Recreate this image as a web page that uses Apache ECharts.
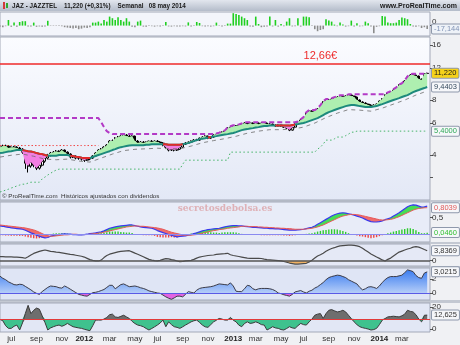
<!DOCTYPE html>
<html><head><meta charset="utf-8">
<script src="https://cdn.jsdelivr.net/npm/echarts@6.0.0/dist/echarts.min.js"></script>
<style>html,body{margin:0;padding:0;background:#f0f1f4}#c{width:460px;height:345px}</style>
</head><body><div id="c"></div>
<script>
const FONT = 'Liberation Sans';
// weekly categories (Mondays) from 2011-06-06, one spare week at the end
const weeks = [];
for (let i = 0; i < 154; i++) weeks.push(new Date(Date.UTC(2011, 5, 6 + 7 * i)).toISOString().slice(0, 10));
const mesES = ['ene','feb','mar','abr','may','jun','jul','ago','sep','oct','nov','dic'];

// ---- price (weekly OHLC) ----
const open = [4.36,4.41,4.47,4.47,4.36,4.41,4.41,4.36,4.30,4.14,
 3.60,3.47,3.65,3.51,3.38,3.51,3.69,3.84,3.99,4.09,
 4.14,4.19,4.14,4.25,4.14,4.04,3.89,3.94,3.84,3.84,
 3.79,3.74,3.79,3.84,3.94,4.09,4.25,4.30,4.41,4.52,
 4.76,4.76,4.94,5.01,5.07,5.14,5.07,5.01,5.07,4.76,
 4.64,4.70,4.64,4.70,4.76,4.70,4.76,4.70,4.64,4.52,
 4.41,4.25,4.30,4.25,4.30,4.41,4.58,4.64,4.70,4.76,
 4.82,4.82,4.94,5.01,5.07,4.94,5.01,5.14,5.20,5.27,
 5.33,5.40,5.61,5.68,5.76,5.76,5.83,5.90,5.98,5.90,
 5.98,5.90,5.98,5.90,5.98,5.98,5.90,5.90,5.83,5.76,
 5.83,5.76,5.68,5.61,5.47,5.68,5.90,6.05,6.21,6.37,
 6.79,6.96,6.87,6.96,7.14,7.41,7.80,8.00,8.00,8.10,
 8.20,8.31,8.42,8.31,8.42,8.52,8.42,8.31,8.00,7.80,
 7.70,7.60,7.51,7.41,7.51,7.60,7.90,8.10,8.52,8.74,
 8.85,9.08,9.31,9.67,9.79,10.17,10.70,10.98,10.98,10.84,
 10.43,10.30,11.19];
const close = [4.41,4.47,4.47,4.36,4.41,4.41,4.36,4.30,4.14,3.60,
 3.47,3.65,3.51,3.38,3.51,3.69,3.84,3.99,4.09,4.14,
 4.19,4.14,4.25,4.14,4.04,3.89,3.94,3.84,3.84,3.79,
 3.74,3.79,3.84,3.94,4.09,4.25,4.30,4.41,4.52,4.76,
 4.76,4.94,5.01,5.07,5.14,5.07,5.01,5.07,4.76,4.64,
 4.70,4.64,4.70,4.76,4.70,4.76,4.70,4.64,4.52,4.41,
 4.25,4.30,4.25,4.30,4.41,4.58,4.64,4.70,4.76,4.82,
 4.82,4.94,5.01,5.07,4.94,5.01,5.14,5.20,5.27,5.33,
 5.40,5.61,5.68,5.76,5.76,5.83,5.90,5.98,5.90,5.98,
 5.90,5.98,5.90,5.98,5.98,5.90,5.90,5.83,5.76,5.83,
 5.76,5.68,5.61,5.47,5.68,5.90,6.05,6.21,6.37,6.79,
 6.96,6.87,6.96,7.14,7.41,7.80,8.00,8.00,8.10,8.20,
 8.31,8.42,8.31,8.42,8.52,8.42,8.31,8.00,7.80,7.70,
 7.60,7.51,7.41,7.51,7.60,7.90,8.10,8.52,8.74,8.85,
 9.08,9.31,9.67,9.79,10.17,10.70,10.98,10.98,10.84,10.43,
 10.30,11.19,11.22];
const high = [4.50,4.55,4.55,4.52,4.46,4.48,4.46,4.42,4.35,4.18,
 3.70,3.72,3.75,3.58,3.56,3.74,3.90,4.05,4.15,4.20,
 4.25,4.24,4.30,4.28,4.18,4.08,3.99,3.98,3.90,3.90,
 3.84,3.82,3.88,3.98,4.14,4.30,4.36,4.46,4.58,4.82,
 4.86,5.00,5.08,5.12,5.18,5.20,5.14,5.12,5.10,4.82,
 4.76,4.76,4.74,4.78,4.82,4.80,4.82,4.76,4.70,4.58,
 4.46,4.36,4.36,4.34,4.46,4.64,4.70,4.74,4.80,4.88,
 4.90,4.98,5.06,5.12,5.10,5.06,5.18,5.24,5.30,5.38,
 5.45,5.66,5.74,5.82,5.82,5.88,5.96,6.04,6.02,6.03,
 6.02,6.03,6.02,6.03,6.04,6.02,5.96,5.94,5.88,5.88,
 5.86,5.80,5.72,5.64,5.72,5.95,6.10,6.28,6.45,6.85,
 7.05,7.02,7.02,7.22,7.50,7.88,8.10,8.08,8.18,8.30,
 8.40,8.50,8.50,8.48,8.60,8.60,8.46,8.36,8.06,7.88,
 7.78,7.66,7.58,7.58,7.66,7.96,8.18,8.58,8.82,8.95,
 9.18,9.40,9.75,9.90,10.28,10.80,11.10,11.15,11.10,10.90,
 10.50,11.25,11.30];
const low = [4.30,4.36,4.40,4.30,4.30,4.35,4.30,4.24,4.05,3.35,
 3.20,3.40,3.42,3.30,3.32,3.45,3.62,3.78,3.92,4.02,
 4.08,4.08,4.08,4.08,3.98,3.82,3.84,3.78,3.76,3.72,
 3.66,3.70,3.74,3.80,3.90,4.04,4.20,4.26,4.36,4.48,
 4.66,4.70,4.88,4.94,5.00,5.00,4.95,4.96,4.70,4.58,
 4.58,4.58,4.60,4.64,4.64,4.66,4.64,4.58,4.46,4.34,
 4.18,4.20,4.18,4.20,4.26,4.38,4.54,4.60,4.66,4.72,
 4.76,4.78,4.88,4.96,4.88,4.90,4.96,5.10,5.16,5.22,
 5.28,5.36,5.56,5.64,5.70,5.72,5.78,5.85,5.84,5.86,
 5.85,5.86,5.85,5.86,5.92,5.85,5.84,5.78,5.70,5.72,
 5.70,5.62,5.55,5.40,5.44,5.64,5.85,6.00,6.15,6.32,
 6.72,6.80,6.82,6.90,7.08,7.36,7.74,7.92,7.94,8.04,
 8.14,8.24,8.24,8.26,8.36,8.36,8.24,7.94,7.74,7.62,
 7.52,7.44,7.34,7.36,7.44,7.56,7.84,8.04,8.46,8.66,
 8.78,9.00,9.24,9.60,9.72,10.10,10.60,10.85,10.75,10.35,
 10.20,10.25,11.10];
// moving average (teal)
const ma = [4.09,4.11,4.14,4.17,4.19,4.22,4.25,4.25,4.25,4.22,
 4.19,4.17,4.14,4.09,4.06,4.04,3.99,3.96,3.96,3.96,
 3.96,3.99,3.99,3.99,3.99,3.96,3.94,3.91,3.89,3.86,
 3.84,3.84,3.84,3.89,3.94,3.99,4.04,4.09,4.14,4.19,
 4.25,4.30,4.36,4.41,4.44,4.47,4.50,4.52,4.52,4.52,
 4.52,4.52,4.55,4.55,4.58,4.58,4.58,4.58,4.58,4.58,
 4.55,4.55,4.55,4.55,4.55,4.58,4.61,4.64,4.70,4.76,
 4.82,4.88,4.91,4.94,4.98,5.01,5.04,5.07,5.11,5.14,
 5.17,5.20,5.24,5.27,5.33,5.40,5.47,5.51,5.54,5.58,
 5.61,5.65,5.68,5.72,5.76,5.76,5.79,5.79,5.79,5.79,
 5.79,5.79,5.79,5.79,5.83,5.86,5.90,5.94,5.98,6.05,
 6.13,6.21,6.29,6.37,6.49,6.62,6.75,6.87,6.96,7.05,
 7.14,7.23,7.32,7.41,7.46,7.51,7.51,7.46,7.41,7.37,
 7.32,7.32,7.32,7.37,7.41,7.51,7.60,7.70,7.80,7.90,
 8.00,8.10,8.20,8.31,8.42,8.52,8.68,8.85,8.97,9.08,
 9.20,9.31,9.4403];
// lower dashed band, one reading every 4 weeks
const bandLow = [3.89,3.98,4.04,3.93,3.79,3.76,3.79,3.70,3.65,3.84,4.04,4.22,4.29,4.32,4.35,4.32,4.32,4.47,4.66,4.79,
 4.91,5.06,5.26,5.40,5.50,5.50,5.54,5.68,5.98,6.41,6.78,7.09,7.04,6.95,7.22,7.60,8.00,8.52,8.97];
// purple dashed (highest high)
const topLine = [6.37,6.37,6.37,6.37,6.37,6.37,6.37,6.37,6.37,6.37,
 6.37,6.37,6.37,6.37,6.37,6.37,6.37,6.37,6.37,6.37,
 6.37,6.37,6.37,6.37,6.37,6.37,6.37,6.37,6.37,6.37,
 6.37,6.37,6.37,6.37,6.37,6.37,6.05,5.68,5.40,5.27,
 5.20,5.20,5.20,5.20,5.20,5.20,5.20,5.20,5.20,5.20,
 5.20,5.20,5.20,5.20,5.20,5.20,5.20,5.20,5.20,5.20,
 5.20,5.20,5.20,5.20,5.20,5.20,5.20,5.20,5.20,5.20,
 5.20,5.20,5.20,5.20,5.20,5.20,5.20,5.24,5.30,5.38,
 5.45,5.66,5.74,5.82,5.82,5.88,5.96,6.04,6.04,6.04,
 6.04,6.04,6.04,6.04,6.04,6.04,6.04,6.04,6.04,6.04,
 6.04,6.04,6.04,6.04,6.04,6.04,6.10,6.28,6.45,6.85,
 7.05,7.05,7.05,7.22,7.50,7.88,8.10,8.10,8.18,8.30,
 8.40,8.50,8.50,8.50,8.60,8.60,8.60,8.60,8.60,8.60,
 8.60,8.60,8.60,8.60,8.60,8.60,8.60,8.60,8.82,8.95,
 9.18,9.40,9.75,9.90,10.28,10.80,11.10,11.15,11.15,11.15,
 11.15,11.15,11.30];
// green dotted (support)
const supportLine = [2.50,2.53,2.56,2.59,2.63,2.66,2.70,2.73,2.76,2.76,
 2.80,2.83,2.83,2.83,2.83,2.95,3.02,3.10,3.17,3.24,
 3.30,3.34,3.34,3.34,3.34,3.34,3.34,3.34,3.34,3.34,
 3.34,3.34,3.34,3.34,3.34,3.34,3.34,3.34,3.34,3.34,
 3.34,3.34,3.34,3.34,3.34,3.34,3.34,3.34,3.34,3.34,
 3.34,3.34,3.34,3.34,3.34,3.34,3.34,3.34,3.34,3.34,
 3.34,3.34,3.34,3.34,3.34,3.55,3.74,3.74,3.74,3.74,
 3.74,3.74,3.74,3.74,3.74,3.74,3.74,3.74,3.74,3.74,
 3.74,3.74,4.14,4.14,4.14,4.14,4.14,4.14,4.14,4.14,
 4.14,4.14,4.14,4.14,4.14,4.14,4.14,4.14,4.14,4.14,
 4.14,4.14,4.14,4.14,4.14,4.14,4.14,4.14,4.14,4.14,
 4.14,4.14,4.14,4.30,4.41,4.58,4.82,4.82,4.82,4.90,
 5.01,5.01,5.01,5.10,5.20,5.33,5.33,5.40,5.40,5.40,
 5.40,5.40,5.40,5.40,5.40,5.40,5.40,5.40,5.40,5.40,
 5.40,5.40,5.40,5.40,5.40,5.40,5.40,5.40,5.40,5.40,
 5.40,5.40,5.40];
const redDotLevel = 4.50, redDotWeeks = 36;
const resistance = 12.66;

// ---- top histogram ----
const histTop = [-5,-8,-3,28,-6,15,-6,18,22,22,
 -5,-5,15,-6,-4,-6,-4,24,-2,-2,
 -2,-2,-3,-8,-10,-12,-15,-12,-18,-15,
 -10,-12,-8,15,15,20,10,28,20,45,
 37,28,42,28,20,37,20,-6,-8,20,
 25,-5,-6,-2,-3,-5,-3,-5,-2,18,
 -4,-5,-3,-4,-5,-3,-4,16,-4,-2,
 18,13,-3,-4,-3,-5,-3,15,-2,-4,
 -2,10,10,62,58,53,45,37,28,-5,
 -6,45,8,-8,-6,-4,45,-4,28,-5,
 8,-3,20,37,-4,-3,37,-5,45,45,
 42,-2,-18,-28,-22,-18,32,25,20,5,
 -3,15,5,-5,-3,25,-5,12,-4,-3,
 20,12,-5,-38,-6,-3,48,45,15,12,
 12,15,28,40,37,32,8,-4,-6,-3,
 -12,-8,-17.144];

// ---- MACD ----
const macd = [0.25,0.24,0.22,0.21,0.19,0.18,0.17,0.16,0.15,0.12,
 0.08,0.04,0.01,-0.03,-0.06,-0.09,-0.11,-0.10,-0.06,-0.04,
 -0.02,-0.01,0.00,0.01,0.00,0.00,-0.01,-0.01,-0.02,-0.02,
 -0.01,0.00,0.02,0.03,0.04,0.06,0.07,0.10,0.14,0.18,
 0.20,0.22,0.24,0.25,0.26,0.27,0.28,0.28,0.26,0.24,
 0.22,0.21,0.20,0.19,0.18,0.15,0.11,0.08,0.05,0.02,
 -0.01,-0.03,-0.06,-0.08,-0.07,-0.06,-0.05,-0.03,-0.01,0.02,
 0.04,0.07,0.10,0.12,0.14,0.15,0.16,0.17,0.18,0.20,
 0.22,0.24,0.25,0.26,0.26,0.25,0.25,0.24,0.23,0.22,
 0.21,0.21,0.20,0.19,0.18,0.18,0.17,0.17,0.16,0.16,
 0.15,0.14,0.13,0.12,0.12,0.12,0.13,0.14,0.15,0.17,
 0.19,0.21,0.25,0.30,0.35,0.40,0.45,0.50,0.55,0.59,
 0.62,0.64,0.65,0.64,0.62,0.60,0.58,0.55,0.52,0.49,
 0.45,0.41,0.38,0.37,0.37,0.38,0.40,0.44,0.47,0.50,
 0.55,0.60,0.65,0.71,0.77,0.83,0.87,0.89,0.88,0.85,
 0.82,0.83,0.8499];
const signal = [0.28,0.27,0.26,0.25,0.24,0.23,0.22,0.21,0.20,0.19,
 0.17,0.15,0.13,0.10,0.06,0.02,-0.02,-0.05,-0.06,-0.06,
 -0.05,-0.04,-0.03,-0.02,-0.02,-0.01,0.00,0.00,-0.01,-0.01,
 -0.01,-0.01,0.00,0.01,0.02,0.03,0.04,0.06,0.08,0.10,
 0.12,0.14,0.16,0.18,0.20,0.22,0.23,0.24,0.25,0.25,
 0.24,0.24,0.23,0.22,0.21,0.20,0.19,0.17,0.15,0.12,
 0.09,0.06,0.04,0.02,0.00,-0.02,-0.03,-0.03,-0.03,-0.02,
 -0.01,0.01,0.03,0.05,0.07,0.09,0.11,0.12,0.14,0.15,
 0.16,0.18,0.19,0.20,0.21,0.22,0.24,0.24,0.24,0.23,
 0.23,0.23,0.22,0.22,0.21,0.21,0.20,0.20,0.19,0.19,
 0.18,0.18,0.17,0.17,0.16,0.15,0.15,0.15,0.15,0.16,
 0.17,0.18,0.20,0.22,0.25,0.28,0.32,0.36,0.40,0.44,
 0.48,0.52,0.55,0.57,0.59,0.60,0.60,0.59,0.58,0.56,
 0.54,0.52,0.50,0.48,0.46,0.44,0.43,0.43,0.44,0.45,
 0.47,0.50,0.53,0.57,0.61,0.65,0.69,0.73,0.76,0.78,
 0.79,0.80,0.8039];

// ---- oscillator (grey line, orange below 0) ----
const osc = [1.6,1.55,1.5,1.5,1.45,1.4,1.35,1.3,1.2,0.95,
 1.5,2.2,2.8,3.2,3.6,3.9,4.1,3.9,3.6,3.5,
 3.3,3.2,3.0,2.8,2.6,2.4,2.3,2.1,1.9,1.7,
 1.4,0.9,0.4,0.1,-0.1,-0.1,0.2,1.2,2.0,2.5,
 2.8,3.1,3.4,3.6,3.7,3.8,3.85,3.4,2.9,2.5,
 2.0,1.5,1.0,0.5,0.2,0.0,-0.1,0.1,0.5,0.8,
 0.7,0.4,0.2,-0.1,-0.4,-0.3,-0.1,0.0,0.1,0.5,
 1.0,1.4,1.6,1.8,2.0,2.1,2.2,2.4,2.5,2.6,
 2.7,2.85,2.3,2.0,1.8,1.6,1.4,1.2,1.0,0.9,
 0.9,0.9,0.9,0.85,0.6,0.4,0.3,0.2,0.1,0.0,
 -0.1,-0.3,-0.6,-0.9,-1.1,-1.3,-1.3,-1.2,-1.1,-1.0,
 -0.5,0.2,1.0,1.8,2.3,2.9,3.6,4.2,4.7,5.0,
 5.4,5.7,5.8,5.9,6.0,6.0,5.9,5.7,5.4,4.8,
 4.0,3.3,2.6,2.0,1.4,0.9,0.3,-0.1,0.5,1.0,
 1.8,2.6,3.3,3.7,4.1,4.5,4.8,5.2,5.4,5.2,
 4.8,4.3,3.8369];

// ---- momentum (blue area) ----
const mom = [2.4,2.1,1.9,1.6,1.4,1.2,1.15,1.25,1.2,0.95,
 0.7,0.45,0.15,-0.05,-0.2,0.2,0.5,0.8,1.0,0.95,
 0.9,0.75,0.7,1.0,0.8,0.55,0.3,0.05,-0.2,-0.3,
 -0.4,-0.45,-0.2,0.05,0.1,0.2,0.35,0.5,0.8,1.1,
 1.1,0.6,0.9,1.2,1.3,1.1,0.9,0.95,1.0,0.9,
 0.75,0.65,0.5,0.3,0.2,0.1,0.0,-0.05,-0.3,-0.55,
 -0.75,-0.9,-0.7,-0.45,-0.45,-0.55,-0.2,0.2,0.1,0.0,
 0.4,0.65,0.75,0.8,0.85,0.9,1.0,1.15,1.3,1.25,
 1.2,1.15,1.45,1.0,0.25,0.2,0.2,0.6,1.1,1.0,
 0.6,0.45,0.6,0.65,0.65,0.65,0.6,0.5,0.3,0.0,
 -0.1,-0.25,-0.35,-0.45,-0.2,0.15,0.25,0.35,0.15,0.0,
 0.25,0.4,0.7,0.9,1.2,1.5,1.9,2.2,2.35,2.45,
 2.55,2.5,2.35,2.2,1.9,1.7,1.5,1.3,0.8,0.45,
 0.6,0.85,0.9,0.8,0.65,1.0,1.5,1.9,2.2,2.35,
 2.35,2.35,2.45,2.55,2.9,3.3,3.2,3.05,2.5,2.2,
 2.1,2.85,3.0215];

// ---- bottom oscillator (grey above / green below level) ----
const lowOsc = [8.7,7.5,3.0,0.6,0.6,2.5,3.6,-0.9,5.5,14.0,
 21.5,14.0,17.0,19.0,18.0,12.0,6.0,-0.9,1.0,2.1,
 3.0,3.6,2.5,3.5,5.1,3.5,2.1,1.5,1.0,0.6,
 -0.2,-0.9,-1.5,3.0,8.1,8.1,8.1,9.0,10.5,13.0,
 13.5,11.0,10.5,11.5,12.5,11.0,9.6,7.0,5.0,3.6,
 3.0,2.1,0.5,-0.9,0.5,2.0,3.6,5.5,8.1,2.1,
 6.5,4.0,2.1,1.5,0.6,2.0,3.6,5.0,6.5,7.5,
 8.1,6.0,3.6,2.0,1.5,4.0,6.5,8.0,9.6,9.0,
 8.1,8.1,10.5,8.0,6.5,3.5,2.1,5.0,6.5,5.1,
 5.5,6.5,5.5,4.0,3.6,-0.9,0.5,2.1,1.0,0.6,
 -0.5,-0.9,0.5,2.1,1.0,0.6,3.0,5.1,4.0,3.6,
 6.5,9.0,12.5,13.5,14.0,9.6,14.0,17.0,17.6,16.5,
 15.5,16.0,17.0,15.5,12.5,9.5,6.5,4.0,2.1,1.2,
 0.6,0.0,-0.9,-0.5,0.6,4.0,8.0,9.5,11.0,11.3,
 11.6,11.3,11.0,12.0,13.5,17.0,16.0,15.5,13.0,9.0,
 6.5,12.5,12.625];
const lowOscLevel = 9;

// ---------- derived tables ----------
const candles = close.map((c, i) => [open[i], c, low[i], high[i]]);
const pBase = close.map((c, i) => Math.min(c, ma[i]));
const pUp = close.map((c, i) => Math.max(c - ma[i], 0));
const pDn = close.map((c, i) => Math.max(ma[i] - c, 0));
const maRed = ma.map((v, i) => (close[i] < v || (i > 0 && close[i - 1] < ma[i - 1])) ? v : null);
const bandData = weeks.map((w, i) => (i % 4 === 0 && i / 4 < bandLow.length) ? bandLow[i / 4] : null);
const redDot = weeks.map((w, i) => i < redDotWeeks ? redDotLevel : null);
const mBase = macd.map((v, i) => Math.min(v, signal[i]));
const mUp = macd.map((v, i) => Math.max(v - signal[i], 0));
const mDn = macd.map((v, i) => Math.max(signal[i] - v, 0));
const mHist = macd.map((v, i) => +(v - signal[i]).toFixed(4));
const oscNeg = osc.map(v => Math.min(v, 0));
const momPos = mom.map(v => Math.max(v, 0));
const momNeg = mom.map(v => Math.min(v, 0));
const lBase = lowOsc.map(v => Math.min(v, lowOscLevel));
const lUp = lowOsc.map(v => Math.max(v - lowOscLevel, 0));
const lDn = lowOsc.map(v => Math.max(lowOscLevel - v, 0));

const last = a => a[a.length - 1];
const fmt = (v, d) => v.toFixed(d).replace('.', ',');
function tag(v, d, color, bg) {
  return { yAxis: v, lineStyle: { color: 'rgba(0,0,0,0)', width: 1 },
    label: { show: true, position: 'end', distance: 2, formatter: fmt(v, d), color: color,
      backgroundColor: bg || '#f6f7fa', borderColor: '#8e98ab', borderWidth: 1, borderRadius: 1,
      padding: [1, 2, 0, 2], fontSize: 7.5, fontFamily: FONT } };
}
function hline(v, color, w) { return { yAxis: v, lineStyle: { color: color, width: w, type: 'solid' }, label: { show: false } }; }
const ML = data => ({ silent: true, symbol: ['none', 'none'], animation: false, data: data });
const L = o => Object.assign({ type: 'line', symbol: 'none', showSymbol: false, silent: true, animation: false }, o);

const G = [ {top: 12, height: 24}, {top: 37, height: 163}, {top: 202, height: 40},
            {top: 244, height: 22}, {top: 268, height: 32}, {top: 303, height: 29} ];
const grad = (a, b) => new echarts.graphic.LinearGradient(0, 0, 0, 1, [{offset: 0, color: a}, {offset: 1, color: b}]);
const bgs = ['#f3f5fb', grad('#fbfcff', '#e3e8f6'), '#e8ecf8', '#e5e9f6', '#dfe5f5', '#e2e7f5'];

const axisLabelBase = { fontSize: 8, color: '#333', fontFamily: FONT, margin: 2 };
function yAx(k, extra, labels, ticks) {
  return Object.assign({ type: 'value', gridIndex: k, position: 'right', splitLine: { show: false },
    axisLine: { show: false },
    axisTick: { show: true, length: 3, lineStyle: { color: '#555' }, customValues: ticks || labels },
    axisLabel: Object.assign({}, axisLabelBase, { customValues: labels, formatter: v => String(v).replace('.', ',') }) }, extra);
}
const yAxes = [
  yAx(0, { min: -52, max: 68 }, [0]),
  yAx(1, { type: 'log', logBase: 2, min: 2.26, max: 17.76 }, [4, 6, 8, 12, 16], [3, 4, 6, 8, 12, 16]),
  yAx(2, { min: -0.236, max: 0.976 }, [0.5]),
  yAx(3, { min: -2.04, max: 6.42 }, [0]),
  yAx(4, { min: -1.0, max: 3.571 }, [0, 2]),
  yAx(5, { min: -2.7, max: 23.6 }, [0, 20])
];
yAxes[0].axisLabel.verticalAlign = 'bottom';

const lastLabelWeek = close.length - 1;
const xAxes = G.map((g, k) => ({
  type: 'category', gridIndex: k, data: weeks, boundaryGap: false,
  axisLine: { show: false }, axisTick: { show: false }, splitLine: { show: false },
  axisLabel: k === 5 ? {
    show: true, fontSize: 8, color: '#333', fontFamily: FONT, margin: 3,
    interval: (idx) => { if (idx === 0 || idx >= lastLabelWeek) return false; const m = +weeks[idx].slice(5, 7), pm = +weeks[idx - 1].slice(5, 7); return m !== pm && m % 2 === 1; },
    formatter: v => { const m = +v.slice(5, 7); return m === 1 ? '{y|' + v.slice(0, 4) + '}' : mesES[m - 1]; },
    rich: { y: { fontWeight: 'bold', fontSize: 8, color: '#222', fontFamily: FONT } }
  } : { show: false }
}));

const stk = (k, name) => ({ xAxisIndex: k, yAxisIndex: k, stack: name, stackStrategy: 'all', lineStyle: { opacity: 0 } });

const series = [
  // top histogram
  { type: 'bar', xAxisIndex: 0, yAxisIndex: 0, data: histTop, barWidth: 1.6, silent: true, animation: false, clip: false,
    itemStyle: { color: p => p.value >= 0 ? '#1fcf1f' : '#8c8c8c' },
    markLine: ML([tag(last(histTop), 3, '#8193b5', '#eef2f8')]) },
  // main: fill between price and average
  L(Object.assign(stk(1, 'pm'), { data: pBase })),
  L(Object.assign(stk(1, 'pm'), { data: pUp, areaStyle: { color: '#aeefb0', opacity: 1 } })),
  L(Object.assign(stk(1, 'pm'), { data: pDn, areaStyle: { color: '#f27ee2', opacity: 1 } })),
  L({ xAxisIndex: 1, yAxisIndex: 1, data: bandData, connectNulls: true, lineStyle: { color: '#6c6c6c', width: 0.8, type: [4, 4] } }),
  L({ xAxisIndex: 1, yAxisIndex: 1, data: supportLine, clip: false, lineStyle: { color: '#45b468', width: 1, type: [1.5, 2.5] },
    markLine: ML([tag(last(supportLine), 4, '#2fa957')]) }),
  L({ xAxisIndex: 1, yAxisIndex: 1, data: redDot, lineStyle: { color: '#f04848', width: 1, type: [1.5, 2] } }),
  L({ xAxisIndex: 1, yAxisIndex: 1, data: ma, clip: false, lineStyle: { color: '#1d8a7c', width: 2 },
    markLine: ML([tag(last(ma), 4, '#34495c')]) }),
  L({ xAxisIndex: 1, yAxisIndex: 1, data: maRed, lineStyle: { color: '#e22a2a', width: 2 } }),
  { type: 'candlestick', xAxisIndex: 1, yAxisIndex: 1, data: candles, barWidth: 2.5, silent: true, animation: false, clip: false,
    itemStyle: { color: '#ffffff', color0: '#000000', borderColor: '#000000', borderColor0: '#000000', borderWidth: 1 },
    markLine: ML([hline(resistance, '#ef2a2a', 1.5), tag(last(close), 3, '#1a1a1a', '#f6d21a')]),
    markPoint: { silent: true, animation: false, symbol: 'circle', symbolSize: 1, itemStyle: { color: 'rgba(0,0,0,0)' },
      label: { show: true, position: 'top', distance: 2, formatter: fmt(resistance, 2) + '€', color: '#ee2b2b', fontSize: 11, fontFamily: FONT },
      data: [{ coord: [weeks[114], resistance] }] } },
  L({ xAxisIndex: 1, yAxisIndex: 1, data: topLine, lineStyle: { color: '#b33ac6', width: 2, type: [5, 3] } }),
  // MACD
  L(Object.assign(stk(2, 'md'), { data: mBase })),
  L(Object.assign(stk(2, 'md'), { data: mUp, areaStyle: { color: '#45dc56', opacity: 1 } })),
  L(Object.assign(stk(2, 'md'), { data: mDn, areaStyle: { color: '#f06b6b', opacity: 1 } })),
  { type: 'bar', xAxisIndex: 2, yAxisIndex: 2, data: mHist, barWidth: 1.4, silent: true, animation: false, clip: false,
    itemStyle: { color: p => p.value >= 0 ? '#2fcb2f' : '#ee4444' },
    markLine: ML([hline(0, '#8a8af0', 1), tag(last(mHist), 4, '#34c034')]) },
  L({ xAxisIndex: 2, yAxisIndex: 2, data: macd, lineStyle: { color: '#3838ee', width: 1.2 } }),
  L({ xAxisIndex: 2, yAxisIndex: 2, data: signal, clip: false, lineStyle: { color: '#e65a5a', width: 1 },
    markLine: ML([tag(last(signal), 4, '#e05858')]) }),
  // oscillator
  L({ xAxisIndex: 3, yAxisIndex: 3, data: oscNeg, lineStyle: { opacity: 0 }, areaStyle: { color: '#f1b263', opacity: 1 } }),
  L({ xAxisIndex: 3, yAxisIndex: 3, data: osc, clip: false, lineStyle: { color: '#4a4a4a', width: 1.2 },
    markLine: ML([hline(0, '#555', 1.5), tag(last(osc), 4, '#333')]) }),
  // momentum
  L({ xAxisIndex: 4, yAxisIndex: 4, data: momPos, lineStyle: { opacity: 0 }, areaStyle: { color: grad('#3a7cf0', '#b5cdf8'), opacity: 1 } }),
  L({ xAxisIndex: 4, yAxisIndex: 4, data: momNeg, lineStyle: { opacity: 0 }, areaStyle: { color: '#e264e2', opacity: 1 } }),
  L({ xAxisIndex: 4, yAxisIndex: 4, data: mom, clip: false, lineStyle: { color: '#3c3c48', width: 1 },
    markLine: ML([hline(0, '#5a5ae6', 1), tag(last(mom), 4, '#333')]) }),
  // bottom oscillator
  L(Object.assign(stk(5, 'lo'), { data: lBase })),
  L(Object.assign(stk(5, 'lo'), { data: lUp, areaStyle: { color: '#6e6e6e', opacity: 1 } })),
  L(Object.assign(stk(5, 'lo'), { data: lDn, areaStyle: { color: '#3fc28e', opacity: 1 } })),
  L({ xAxisIndex: 5, yAxisIndex: 5, data: lowOsc, clip: false, lineStyle: { color: '#3a3a3a', width: 1 },
    markLine: ML([hline(lowOscLevel, '#e23a3a', 1.2), tag(last(lowOsc), 3, '#333')]) })
];

const txt = (x, y, text, size, bold, extra) => ({ type: 'text', x: x, y: y,
  style: Object.assign({ text: text, fontSize: size, fontWeight: bold ? 'bold' : 'normal', fontFamily: FONT, fill: '#1a1a1a', verticalAlign: 'middle' }, extra || {}) });

const chart = echarts.init(document.getElementById('c'), null, { renderer: 'canvas' });
chart.setOption({
  backgroundColor: '#f0f1f4',
  animation: false,
  textStyle: { fontFamily: FONT },
  grid: G.map((g, k) => ({ left: -1, right: 30, top: g.top, height: g.height, show: true,
    backgroundColor: bgs[k], borderColor: '#a3a9b8', borderWidth: 1 })),
  xAxis: xAxes,
  yAxis: yAxes,
  series: series,
  graphic: [
    { type: 'rect', z: -1, shape: { x: 0, y: 0, width: 460, height: 11 }, style: { fill: grad('#e2e6ee', '#b4bcca') } },
    { type: 'rect', z: -1, shape: { x: 0, y: 200, width: 460, height: 2 }, style: { fill: '#c3c8d2' } },
    { type: 'rect', z: -1, shape: { x: 0, y: 242, width: 460, height: 2 }, style: { fill: '#c3c8d2' } },
    { type: 'rect', z: -1, shape: { x: 0, y: 266, width: 460, height: 2 }, style: { fill: '#c3c8d2' } },
    { type: 'rect', z: -1, shape: { x: 0, y: 300, width: 460, height: 3 }, style: { fill: '#c3c8d2' } },
    { type: 'rect', shape: { x: 3, y: 2, width: 2, height: 7 }, style: { fill: '#d23a3a' } },
    { type: 'rect', shape: { x: 6, y: 3, width: 2, height: 5 }, style: { fill: '#2fa82f' } },
    txt(12, 6, 'JAZ - JAZZTEL    11,220 (+0,31%)    Semanal   08 may 2014', 6.3, true),
    txt(457, 6, 'www.ProRealTime.com', 7, true, { align: 'right' }),
    txt(2, 196, '© ProRealTime.com  Históricos ajustados con dividendos', 6.2, false, { fill: '#333' }),
    { type: 'text', x: 225, y: 209, style: { text: 'secretosdebolsa.es', fontSize: 9, fontWeight: 'bold', fontFamily: 'DejaVu Serif', fill: 'rgba(215,130,130,0.55)', align: 'center', verticalAlign: 'middle' } }
  ]
});
</script></body></html>
